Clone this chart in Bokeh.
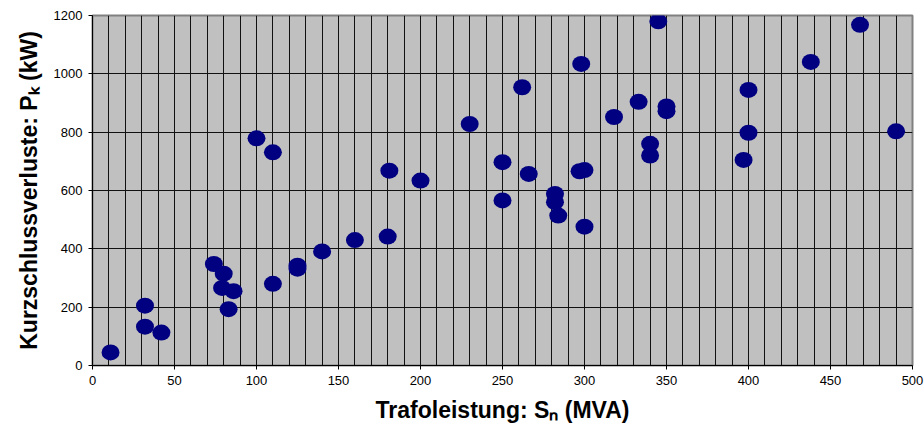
from bokeh.plotting import figure
from bokeh.models import FixedTicker, SingleIntervalTicker, Range1d
from bokeh.embed import file_html
from bokeh.resources import INLINE

# Data (Trafoleistung in MVA, Kurzschlussverluste in kW)
sn_mva = [11, 32, 32, 42, 74, 80, 79, 86, 83, 110, 125, 125, 140, 160, 180,
          100, 110, 181, 200, 230, 250, 250, 262, 266, 282, 282, 284, 297,
          300, 298, 300, 318, 333, 340, 340, 345, 350, 350, 397, 400, 400,
          438, 468, 490]
pk_kw = [45, 205, 133, 113, 348, 315, 266, 255, 193, 280, 342, 332, 391, 430,
         442, 779, 731, 668, 634, 828, 697, 566, 954, 657, 588, 560, 514, 666,
         670, 1034, 476, 852, 904, 760, 720, 1180, 888, 872, 705, 945, 798,
         1041, 1168, 803]
x_ticks = [0, 50, 100, 150, 200, 250, 300, 350, 400, 450, 500]
y_ticks = [0, 200, 400, 600, 800, 1000, 1200]

FONT = "Liberation Sans"

p = figure(width=924, height=430, output_backend="svg", toolbar_location=None,
           x_range=Range1d(0, 500), y_range=Range1d(0, 1200),
           min_border_left=92, min_border_right=12, min_border_top=15,
           min_border_bottom=65)

p.background_fill_color = "#C0C0C0"
p.border_fill_color = "white"
p.outline_line_color = "#808080"
p.outline_line_width = 2

p.xgrid.ticker = SingleIntervalTicker(interval=10)
p.xgrid.grid_line_color = "#111111"
p.xgrid.grid_line_width = 1
p.ygrid.ticker = FixedTicker(ticks=y_ticks)
p.ygrid.grid_line_color = "#111111"
p.ygrid.grid_line_width = 1

p.xaxis.ticker = FixedTicker(ticks=x_ticks)
p.yaxis.ticker = FixedTicker(ticks=y_ticks)
for ax in (p.xaxis[0], p.yaxis[0]):
    ax.axis_line_color = "black"
    ax.axis_line_width = 1
    ax.major_tick_line_color = "black"
    ax.major_tick_in = 0
    ax.major_tick_out = 4
    ax.minor_tick_line_color = None
    ax.major_label_text_font = FONT
    ax.major_label_text_font_size = "13px"
    ax.major_label_text_color = "black"
    ax.axis_label_text_font = FONT
    ax.axis_label_text_font_size = "23px"
    ax.axis_label_text_font_style = "bold"
    ax.axis_label_text_color = "black"

p.xaxis.axis_label = "Trafoleistung: S\u2099 (MVA)"
p.yaxis.axis_label = "Kurzschlussverluste: P\u2096 (kW)"
p.xaxis.major_label_standoff = 6
p.yaxis.major_label_standoff = 6
p.xaxis.axis_label_standoff = 9
p.yaxis.axis_label_standoff = 9

p.ellipse(x=sn_mva, y=pk_kw, width=18, height=16, width_units="screen",
          height_units="screen", fill_color="#000080", line_color=None)

open("out.html", "w").write(file_html(p, INLINE))
